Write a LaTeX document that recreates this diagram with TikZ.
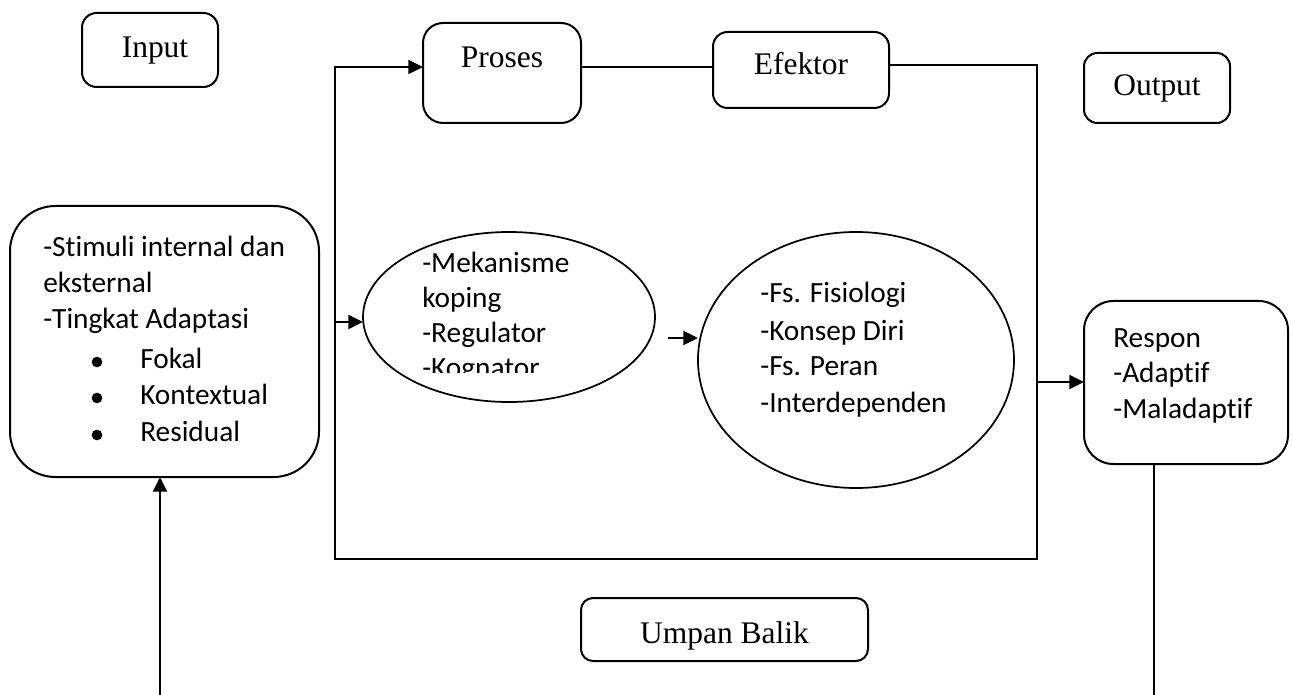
\documentclass[tikz,border=0pt]{standalone}
\usepackage{fontspec}
\setmainfont{Liberation Serif}
\newfontfamily\calfont[Ligatures={NoCommon}]{Carlito}
\usetikzlibrary{arrows.meta,shapes.geometric}
\begin{document}
\begin{tikzpicture}[x=0.75pt,y=-0.75pt,
  box/.style={draw, line width=1.5pt, rectangle, inner sep=0pt, outer sep=0pt},
  oval/.style={draw, line width=1.3pt, ellipse, inner sep=0pt, outer sep=0pt},
  tlabel/.style={font=\fontsize{23.6}{28}\selectfont, inner sep=0pt, anchor=base},
  clabel/.style={font=\calfont\fontsize{22}{26}\selectfont, inner sep=0pt, anchor=base west},
  conn/.style={line width=1.4pt},
  arr/.style={line width=1.6pt, -{Triangle[length=11pt,width=10.5pt]}},
  dot/.style={circle, fill, inner sep=0pt, minimum size=8pt}]
\useasboundingbox (0,0) rectangle (1292,695);

% top boxes
\node[box, rounded corners=11pt, minimum width=102pt, minimum height=55.5pt] (input) at (150,50) {};
\node[tlabel] (inputt) at (155,58) {Input};
\node[box, rounded corners=15pt, minimum width=118.5pt, minimum height=75pt] (proses) at (502,73) {};
\node[tlabel] (prosest) at (502,68) {Proses};
\node[box, rounded corners=11pt, minimum width=132pt, minimum height=57pt] (efektor) at (801,70) {};
\node[tlabel] (efektort) at (801,75) {Efektor};
\node[box, rounded corners=10pt, minimum width=109.5pt, minimum height=52.5pt] (output) at (1157,88) {};
\node[tlabel] (outputt) at (1157,96) {Output};

% stimuli box
\node[box, rounded corners=34pt, minimum width=231.75pt, minimum height=203.25pt] (stim) at (164.5,341.5) {};
\node[clabel] (s1) at (43,257) {-Stimuli internal dan};
\node[clabel] (s2) at (43,293) {eksternal};
\node[clabel] (s3) at (43,328) {-Tingkat Adaptasi};
\node[dot] (b1) at (97,362) {};
\node[clabel] (s4) at (140,368) {Fokal};
\node[dot] (b2) at (97,398) {};
\node[clabel] (s5) at (140,404) {Kontextual};
\node[dot] (b3) at (97,435) {};
\node[clabel] (s6) at (140,441) {Residual};

% ellipses
\node[oval, minimum width=219pt, minimum height=127.5pt] (e1) at (509,317) {};
\node[clabel] (m1) at (422,273) {-Mekanisme};
\node[clabel] (m2) at (422,307) {koping};
\node[clabel] (m3) at (422,342) {-Regulator};
\begin{scope}
  \clip (400,340) rectangle (640,372);
  \node[clabel] (m4) at (422,377) {-Kognator};
\end{scope}
\node[oval, minimum width=237pt, minimum height=192pt] (e2) at (856,360) {};
\node[clabel] (f1) at (760,303) {-Fs. Fisiologi};
\node[clabel] (f2) at (760,340) {-Konsep Diri};
\node[clabel] (f3) at (760,375) {-Fs. Peran};
\node[clabel] (f4) at (760,412) {-Interdependen};

% respon
\node[box, rounded corners=22pt, minimum width=153pt, minimum height=122.25pt] (respon) at (1186,382.5) {};
\node[clabel] (r1) at (1113,347) {Respon};
\node[clabel] (r2) at (1113,382) {-Adaptif};
\node[clabel] (r3) at (1113,418) {-Maladaptif};

% umpan balik
\node[box, rounded corners=9pt, minimum width=215.25pt, minimum height=47.25pt] (umpan) at (724.5,629.5) {};
\node[tlabel] (umpant) at (724.5,643) {Umpan Balik};

% frame coordinates
\coordinate (tr) at (1037,65);
\coordinate (br) at (1037,559);
\coordinate (bl) at (335,559);
\coordinate (tl) at (335,67);
\coordinate (a1) at (335,322);
\coordinate (a2) at (668,338);
\coordinate (a3) at (1037,382);
\coordinate (s0) at (160,695);
\coordinate (r0) at (1154,695);

% connectors
\draw[conn] (proses.east |- tl) -- (efektor.west |- tl);
\draw[arr] (efektor.east |- tr) -- (tr) -- (br) -- (bl) -- (tl) -- (proses.west |- tl);
\draw[arr] (a1) -- (e1.west |- a1);
\draw[arr] (a2) -- (e2.west |- a2);
\draw[arr] (a3) -- (respon.west |- a3);
\draw[arr] (s0) -- (stim.south -| s0);
\draw[conn] (respon.south -| r0) -- (r0);
\end{tikzpicture}
\end{document}
